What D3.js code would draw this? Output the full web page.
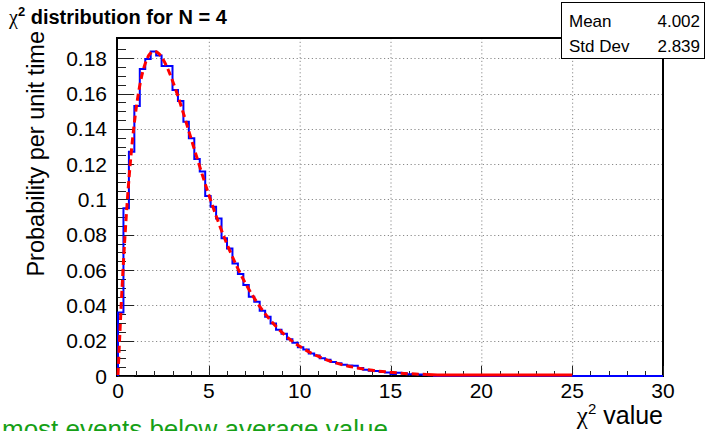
<!DOCTYPE html>
<html>
<head>
<meta charset="utf-8">
<script src="https://cdn.jsdelivr.net/npm/d3@7"></script>
<style>
  html, body { margin: 0; padding: 0; background: #fff; }
  svg { display: block; }
  text { font-family: "Liberation Sans", Arial, Helvetica, sans-serif; }
</style>
</head>
<body>
<svg id="chart" width="706" height="431"></svg>
<script>
// Histogram: 100 bins of width 0.3 over [0, 30]
const binWidth = 0.3;
const binCounts = [
  0.036, 0.095, 0.127, 0.153, 0.174, 0.1796, 0.1838, 0.1816, 0.1756, 0.1756,
  0.162, 0.1558, 0.1441, 0.1347, 0.1229, 0.1158, 0.1020, 0.0959, 0.0893, 0.0780,
  0.0723, 0.0638, 0.0578, 0.0516, 0.0449, 0.0420, 0.0370, 0.0335, 0.0298, 0.0262,
  0.0240, 0.0208, 0.0188, 0.0163, 0.0150, 0.0128, 0.0116, 0.0100, 0.0092, 0.0080,
  0.0072, 0.0064, 0.0060, 0.0058, 0.0046, 0.0036, 0.0030, 0.0028, 0.0022, 0.0020,
  0.0012, 0.0018, 0.0016, 0.0010, 0.0012, 0.0008, 0.0006, 0.0004, 0, 0,
  0, 0, 0, 0, 0, 0, 0, 0, 0, 0,
  0, 0, 0, 0, 0, 0, 0, 0, 0, 0,
  0, 0, 0, 0, 0, 0, 0, 0, 0, 0,
  0, 0, 0, 0, 0, 0, 0, 0, 0, 0
];

// Expected density curve, sampled points (x, density)
const curveX = [0, 0.25, 0.5, 0.75, 1, 1.25, 1.5, 1.75, 2, 2.25, 2.5, 2.75, 3, 3.25, 3.5, 3.75,
  4, 4.5, 5, 5.5, 6, 6.5, 7, 7.5, 8, 8.5, 9, 9.5, 10, 11, 12, 13, 14, 15, 16, 17, 18, 20, 22, 25];
const curveY = [0, 0.0552, 0.0974, 0.1289, 0.1516, 0.1673, 0.1771, 0.1824, 0.1839, 0.1826, 0.1791,
  0.1738, 0.1673, 0.1600, 0.1521, 0.1438, 0.1353, 0.1186, 0.1026, 0.0879, 0.0747, 0.0630, 0.0528,
  0.0441, 0.0366, 0.0303, 0.0250, 0.0205, 0.0168, 0.0112, 0.0074, 0.0049, 0.0032, 0.0021, 0.0013,
  0.0009, 0.0006, 0.0002, 0.0001, 0];

const xTicks = [0, 5, 10, 15, 20, 25, 30];
const yTicks = [0, 0.02, 0.04, 0.06, 0.08, 0.1, 0.12, 0.14, 0.16, 0.18];
const statsRows = [["Mean", "4.002"], ["Std Dev", "2.839"]];

const svg = d3.select("#chart");
const frame = { left: 118, right: 663, top: 38, bottom: 376 };

const x = d3.scaleLinear().domain([0, 30]).range([frame.left, frame.right]);
const y = d3.scaleLinear().domain([0, 0.1915]).range([frame.bottom, frame.top]);

// grid
const grid = svg.append("g").attr("stroke", "#8a8a8a").attr("stroke-width", 1)
  .attr("stroke-dasharray", "1.2,2.6");
grid.selectAll(".gx").data(xTicks.filter(t => t > 0 && t < 30)).join("line")
  .attr("x1", d => x(d) + 0.5).attr("x2", d => x(d) + 0.5)
  .attr("y1", frame.top).attr("y2", frame.bottom);
grid.selectAll(".gy").data(yTicks.filter(t => t > 0)).join("line")
  .attr("x1", frame.left).attr("x2", frame.right)
  .attr("y1", d => Math.round(y(d)) + 0.5).attr("y2", d => Math.round(y(d)) + 0.5);

// frame border and ticks
const ax = svg.append("g");
ax.append("rect")
  .attr("x", frame.left - 1).attr("y", frame.top)
  .attr("width", frame.right - frame.left + 1).attr("height", frame.bottom - frame.top)
  .attr("fill", "none").attr("stroke", "#000").attr("stroke-width", 2);

const yMinor = d3.range(0, 0.19, 0.005);
ax.selectAll(".ym").data(yMinor).join("line")
  .attr("x1", frame.left).attr("x2", (d, i) => frame.left + (i % 4 === 0 ? 16 : 8))
  .attr("y1", d => Math.round(y(d)) + 0.5).attr("y2", d => Math.round(y(d)) + 0.5)
  .attr("stroke", "#222").attr("stroke-width", 1);
const xMinor = d3.range(0, 31, 1);
ax.selectAll(".xm").data(xMinor).join("line")
  .attr("x1", d => Math.round(x(d)) + 0.5).attr("x2", d => Math.round(x(d)) + 0.5)
  .attr("y1", frame.bottom).attr("y2", d => frame.bottom - (d % 5 === 0 ? 10 : 5))
  .attr("stroke", "#222").attr("stroke-width", 1);

// tick labels
const fmt = v => String(+v.toFixed(2));
svg.append("g").selectAll("text").data(yTicks).join("text")
  .attr("x", 107).attr("y", d => y(d) + 7.5)
  .attr("text-anchor", "end").attr("font-size", 21).text(fmt);
svg.append("g").selectAll("text").data(xTicks).join("text")
  .attr("x", d => x(d)).attr("y", 398)
  .attr("text-anchor", "middle").attr("font-size", 21).text(fmt);

// histogram outline
const histPts = [[0, 0]].concat(binCounts.map((v, i) => [i * binWidth, v]));
histPts.push([binCounts.length * binWidth, binCounts[binCounts.length - 1]]);
svg.append("path")
  .attr("d", d3.line().x(d => x(d[0])).y(d => y(d[1])).curve(d3.curveStepAfter)(histPts))
  .attr("fill", "none").attr("stroke", "#0000ff").attr("stroke-width", 2);

// expected density: dashed where it is visible above the axis, solid where it lies on it
const curvePts = curveX.map((v, i) => [v, curveY[i]]);
const lineGen = d3.line().x(d => x(d[0])).y(d => Math.min(y(d[1]), frame.bottom - 1)).curve(d3.curveMonotoneX);
const splitIdx = curvePts.findIndex(d => d[0] >= 17);
svg.append("path")
  .attr("d", lineGen(curvePts.slice(0, splitIdx + 1)))
  .attr("fill", "none").attr("stroke", "#ff0000").attr("stroke-width", 3)
  .attr("stroke-dasharray", "7,4");
svg.append("path")
  .attr("d", lineGen(curvePts.slice(splitIdx)))
  .attr("fill", "none").attr("stroke", "#ff0000").attr("stroke-width", 3);

// title
const title = svg.append("text").attr("x", 9).attr("y", 24)
  .attr("font-size", 20).attr("font-weight", "bold");
title.append("tspan").attr("font-family", "Liberation Serif").attr("font-weight", "normal").text("χ");
title.append("tspan").attr("font-size", 13).attr("dy", -8).text("2");
title.append("tspan").attr("dy", 8).text(" distribution for N = 4");

// axis titles
svg.append("text")
  .attr("transform", `translate(44, ${frame.top - 7}) rotate(-90)`)
  .attr("text-anchor", "end").attr("font-size", 23.5).text("Probability per unit time");
const xt = svg.append("text").attr("x", frame.right).attr("y", 424)
  .attr("text-anchor", "end").attr("font-size", 25);
xt.append("tspan").attr("font-family", "Liberation Serif").text("χ");
xt.append("tspan").attr("font-size", 15).attr("dy", -10).text("2");
xt.append("tspan").attr("dy", 10).text(" value");

// stats box
const box = svg.append("g");
box.append("rect").attr("x", 561.5).attr("y", 2.5).attr("width", 143).attr("height", 56)
  .attr("fill", "#fff").attr("stroke", "#000").attr("stroke-width", 1);
statsRows.forEach((r, i) => {
  box.append("text").attr("x", 569).attr("y", 27 + i * 25).attr("font-size", 17).text(r[0]);
  box.append("text").attr("x", 700).attr("y", 27 + i * 25).attr("font-size", 17)
    .attr("text-anchor", "end").text(r[1]);
});

// annotation
svg.append("text").attr("x", 2).attr("y", 438)
  .attr("font-family", "DejaVu Sans").attr("font-size", 26).attr("fill", "#16a016")
  .text("most events below average value");
</script>
</body>
</html>
